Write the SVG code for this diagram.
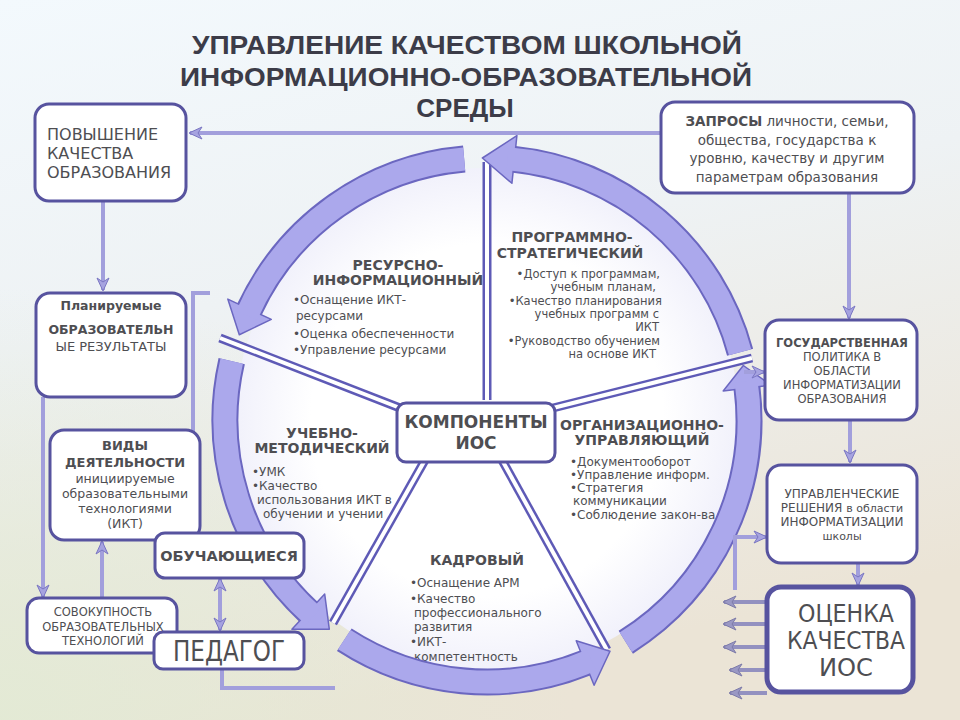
<svg xmlns="http://www.w3.org/2000/svg" width="960" height="720" viewBox="0 0 960 720">
<defs>
<linearGradient id="bg" x1="0" y1="0" x2="0.3" y2="1">
<stop offset="0" stop-color="#f3f9fd"/>
<stop offset="0.45" stop-color="#eef2f4"/>
<stop offset="1" stop-color="#ebe4d6"/>
</linearGradient>
<radialGradient id="bgl" cx="0" cy="1" r="0.6">
<stop offset="0" stop-color="#e2ead4" stop-opacity="0.9"/>
<stop offset="1" stop-color="#e2ead4" stop-opacity="0"/>
</radialGradient>
<radialGradient id="disc" cx="0.5" cy="0.5" r="0.5">
<stop offset="0.7" stop-color="#ffffff"/>
<stop offset="1" stop-color="#f1f1fb"/>
</radialGradient>
<marker id="ah" markerUnits="userSpaceOnUse" markerWidth="16" markerHeight="16" refX="13" refY="8" orient="auto">
<path d="M1,2 L14,8 L1,14 L5,8 z" fill="#a6a3e0" stroke="#7a76c2" stroke-width="1"/>
</marker>
<marker id="ahs" markerUnits="userSpaceOnUse" markerWidth="16" markerHeight="16" refX="3" refY="8" orient="auto">
<path d="M15,2 L2,8 L15,14 L11,8 z" fill="#a6a3e0" stroke="#7a76c2" stroke-width="1"/>
</marker>
<marker id="ag" markerUnits="userSpaceOnUse" markerWidth="16" markerHeight="16" refX="13" refY="8" orient="auto">
<path d="M1,2 L14,8 L1,14 L5,8 z" fill="#9a98c4" stroke="#7c7aa8" stroke-width="1"/>
</marker>
<style>
.bx{fill:#ffffff;stroke:#57539f;stroke-width:3}
.t{font-family:"DejaVu Sans","Noto Sans",sans-serif;fill:#4e4e52}
.b{font-weight:bold}
.c{text-anchor:middle}
.e{text-anchor:end}
.ttl{font-family:"Liberation Sans","DejaVu Sans",sans-serif;font-weight:bold;font-size:26px;fill:#3c3c48;text-anchor:middle}
.cn{fill:none;stroke:#a29fdc;stroke-width:4}
.cg{fill:none;stroke:#9391c0;stroke-width:4}
.ro{fill:none;stroke:#6b67c0;stroke-width:27}
.rf{fill:none;stroke:#aba8ec;stroke-width:23}
.rh{fill:#aba8ec;stroke:#6b67c0;stroke-width:1.5;stroke-linejoin:round}
.so{stroke:#5e5ab6;stroke-width:9;stroke-linecap:butt}
.si{stroke:#ffffff;stroke-width:4;stroke-linecap:butt}
</style>
</defs>

<rect width="960" height="720" fill="url(#bg)"/>
<rect width="960" height="720" fill="url(#bgl)"/>

<g id="title">
<text class="ttl" x="467" y="54" textLength="550" lengthAdjust="spacingAndGlyphs">УПРАВЛЕНИЕ КАЧЕСТВОМ ШКОЛЬНОЙ</text>
<text class="ttl" x="466" y="86" textLength="572" lengthAdjust="spacingAndGlyphs">ИНФОРМАЦИОННО-ОБРАЗОВАТЕЛЬНОЙ</text>
<text class="ttl" x="465" y="117">СРЕДЫ</text>
</g>

<g id="cycle">
<circle cx="487" cy="420" r="252" fill="url(#disc)"/>
</g>

<g id="sector-resource">
<text class="t b c" font-size="14" x="398" y="270">РЕСУРСНО-</text>
<text class="t b c" font-size="14" x="398" y="285">ИНФОРМАЦИОННЫЙ</text>
<text class="t" font-size="12" x="293" y="304">•Оснащение ИКТ-</text>
<text class="t" font-size="12" x="296" y="320">ресурсами</text>
<text class="t" font-size="12" x="293" y="338">•Оценка обеспеченности</text>
<text class="t" font-size="12" x="293" y="354">•Управление ресурсами</text>
</g>

<g id="sector-program">
<text class="t b c" font-size="14" x="572" y="242">ПРОГРАММНО-</text>
<text class="t b c" font-size="14" x="570" y="258">СТРАТЕГИЧЕСКИЙ</text>
<text class="t e" font-size="11.5" x="660" y="278">•Доступ к программам,</text>
<text class="t e" font-size="11.5" x="656" y="291">учебным планам,</text>
<text class="t e" font-size="11.5" x="662" y="305">•Качество планирования</text>
<text class="t e" font-size="11.5" x="659" y="318">учебных программ с</text>
<text class="t e" font-size="11.5" x="659" y="331">ИКТ</text>
<text class="t e" font-size="11.5" x="660" y="345">•Руководство обучением</text>
<text class="t e" font-size="11.5" x="656" y="358">на основе ИКТ</text>
</g>

<g id="sector-method">
<text class="t b c" font-size="14" x="322" y="438">УЧЕБНО-</text>
<text class="t b c" font-size="14" x="322" y="453">МЕТОДИЧЕСКИЙ</text>
<text class="t" font-size="12" x="252" y="476">•УМК</text>
<text class="t" font-size="12" x="252" y="490">•Качество</text>
<text class="t" font-size="12" x="257" y="504">использования ИКТ в</text>
<text class="t" font-size="12" x="263" y="518">обучении и учении</text>
</g>

<g id="sector-org">
<text class="t b c" font-size="14" x="642" y="430">ОРГАНИЗАЦИОННО-</text>
<text class="t b c" font-size="14" x="642" y="445">УПРАВЛЯЮЩИЙ</text>
<text class="t" font-size="12" x="570" y="466">•Документооборот</text>
<text class="t" font-size="12" x="570" y="479">•Управление информ.</text>
<text class="t" font-size="12" x="570" y="492">•Стратегия</text>
<text class="t" font-size="12" x="573" y="505">коммуникации</text>
<text class="t" font-size="12" x="570" y="519">•Соблюдение закон-ва</text>
</g>

<g id="sector-staff">
<text class="t b c" font-size="14" x="477" y="565">КАДРОВЫЙ</text>
<text class="t" font-size="12" x="410" y="587">•Оснащение АРМ</text>
<text class="t" font-size="12" x="410" y="603">•Качество</text>
<text class="t" font-size="12" x="414" y="617">профессионального</text>
<text class="t" font-size="12" x="414" y="631">развития</text>
<text class="t" font-size="12" x="410" y="646">•ИКТ-</text>
<text class="t" font-size="12" x="414" y="661">компетентность</text>
</g>

<g id="spokes">
<line class="so" x1="487" y1="400" x2="487" y2="162"/>
<line class="si" x1="487" y1="400" x2="487" y2="162"/>
<line class="so" x1="553" y1="408" x2="752" y2="358"/>
<line class="si" x1="553" y1="408" x2="752" y2="358"/>
<line class="so" x1="400" y1="408" x2="220" y2="338"/>
<line class="si" x1="400" y1="408" x2="220" y2="338"/>
<line class="so" x1="425" y1="460" x2="333" y2="623"/>
<line class="si" x1="425" y1="460" x2="333" y2="623"/>
<line class="so" x1="502" y1="460" x2="607" y2="650"/>
<line class="si" x1="502" y1="460" x2="607" y2="650"/>
</g>

<g id="ring">
<path class="ro" d="M740.1,352.2 A262,262 0 0 0 514.4,159.4"/>
<polygon class="rh" points="516.9,135.6 482.4,158.0 511.9,183.3"/>
<path class="rf" d="M740.1,352.2 A262,262 0 0 0 507.6,158.8"/>

<path class="ro" d="M464.2,159.0 A262,262 0 0 0 249.5,309.3"/>
<polygon class="rh" points="227.8,299.1 239.3,334.7 271.3,319.4"/>
<path class="rf" d="M464.2,159.0 A262,262 0 0 0 246.7,315.5"/>

<path class="ro" d="M231.7,361.1 A262,262 0 0 0 308.3,611.6"/>
<polygon class="rh" points="291.9,629.2 329.3,629.2 324.7,594.1"/>
<path class="rf" d="M231.7,361.1 A262,262 0 0 0 313.4,616.2"/>

<path class="ro" d="M344.3,639.7 A262,262 0 0 0 585.1,662.9"/>
<polygon class="rh" points="594.1,685.2 610.0,651.3 576.2,640.7"/>
<path class="rf" d="M344.3,639.7 A262,262 0 0 0 591.5,660.3"/>

<path class="ro" d="M625.8,642.2 A262,262 0 0 0 747.0,388.1"/>
<polygon class="rh" points="770.9,385.1 743.3,365.5 723.2,391.0"/>
<path class="rf" d="M625.8,642.2 A262,262 0 0 0 746.1,381.3"/>
</g>

<g id="connectors">
<path class="cn" d="M660,133 H190" marker-end="url(#ah)"/>
<path class="cn" d="M103,202 V290" marker-end="url(#ah)"/>
<path class="cn" d="M849,193 V318" marker-end="url(#ah)"/>
<path class="cn" d="M850,420 V462" marker-end="url(#ah)"/>
<path class="cn" d="M858,563 V585" marker-end="url(#ah)"/>
<path class="cn" d="M43,397 V597" marker-end="url(#ah)"/>
<path class="cn" d="M210,293 H193 V436"/>
<path class="cn" d="M102,598 V542" marker-end="url(#ah)"/>
<path class="cn" d="M220,579 V630" marker-start="url(#ahs)" marker-end="url(#ah)"/>
<path class="cn" d="M222,669 V688 H335"/>
<path class="cn" d="M744,372 H764" marker-end="url(#ah)"/>
<path class="cn" d="M735,590 V537 H766" marker-end="url(#ah)"/>
<path class="cg" d="M767,602 H724" marker-end="url(#ag)"/>
<path class="cg" d="M767,624 H724" marker-end="url(#ag)"/>
<path class="cg" d="M767,647 H724" marker-end="url(#ag)"/>
<path class="cg" d="M767,670 H730" marker-end="url(#ag)"/>
<path class="cg" d="M767,693 H730" marker-end="url(#ag)"/>
</g>

<g id="components">
<rect class="bx" x="397" y="403" width="158" height="59" rx="9"/>
<text class="t b c" font-size="17" x="476" y="428" fill="#555">КОМПОНЕНТЫ</text>
<text class="t b c" font-size="17" x="476" y="449" fill="#555">ИОС</text>
</g>

<g id="raise-quality">
<rect class="bx" x="35" y="104" width="151" height="97" rx="14"/>
<text class="t" font-size="16" x="47" y="140">ПОВЫШЕНИЕ</text>
<text class="t" font-size="16" x="47" y="159">КАЧЕСТВА</text>
<text class="t" font-size="16" x="47" y="178">ОБРАЗОВАНИЯ</text>
</g>

<g id="requests">
<rect class="bx" x="661" y="102" width="253" height="91" rx="14"/>
<text class="t c" font-size="13.5" x="787" y="126"><tspan class="b">ЗАПРОСЫ</tspan> личности, семьи,</text>
<text class="t c" font-size="13.5" x="787" y="145">общества, государства к</text>
<text class="t c" font-size="13.5" x="787" y="163">уровню, качеству и другим</text>
<text class="t c" font-size="13.5" x="787" y="182">параметрам образования</text>
</g>

<g id="planned-results">
<rect class="bx" x="36" y="293" width="150" height="104" rx="14"/>
<text class="t b c" font-size="12.5" x="111" y="310">Планируемые</text>
<text class="t b c" font-size="12.5" x="111" y="334">ОБРАЗОВАТЕЛЬН</text>
<text class="t c" font-size="13" x="111" y="351">ЫЕ РЕЗУЛЬТАТЫ</text>
</g>

<g id="activities">
<rect class="bx" x="50" y="430" width="150" height="110" rx="14"/>
<text class="t b c" font-size="13" x="125" y="450">ВИДЫ</text>
<text class="t b c" font-size="13" x="125" y="467">ДЕЯТЕЛЬНОСТИ</text>
<text class="t c" font-size="12.5" x="125" y="483">инициируемые</text>
<text class="t c" font-size="12.5" x="125" y="498">образовательными</text>
<text class="t c" font-size="12.5" x="125" y="513">технологиями</text>
<text class="t c" font-size="12.5" x="125" y="528">(ИКТ)</text>
</g>

<g id="technologies">
<rect class="bx" x="27" y="598" width="150" height="55" rx="12"/>
<text class="t c" font-size="11.5" x="103" y="616">СОВОКУПНОСТЬ</text>
<text class="t c" font-size="11.5" x="103" y="631">ОБРАЗОВАТЕЛЬНЫХ</text>
<text class="t c" font-size="11.5" x="103" y="645">ТЕХНОЛОГИЙ</text>
</g>

<g id="learners">
<rect class="bx" x="155" y="533" width="149" height="45" rx="10"/>
<text class="t b c" font-size="14.5" x="229" y="561">ОБУЧАЮЩИЕСЯ</text>
</g>

<g id="teacher">
<rect class="bx" x="154" y="632" width="150" height="37" rx="9"/>
<text class="t c" font-size="28" x="229" y="661" textLength="112" lengthAdjust="spacingAndGlyphs">ПЕДАГОГ</text>
</g>

<g id="state-policy">
<rect class="bx" x="765" y="320" width="152" height="100" rx="14"/>
<text class="t b c" font-size="11.5" x="842" y="347">ГОСУДАРСТВЕННАЯ</text>
<text class="t c" font-size="11.5" x="842" y="361">ПОЛИТИКА В</text>
<text class="t c" font-size="11.5" x="842" y="375">ОБЛАСТИ</text>
<text class="t c" font-size="11.5" x="842" y="389">ИНФОРМАТИЗАЦИИ</text>
<text class="t c" font-size="11.5" x="842" y="403">ОБРАЗОВАНИЯ</text>
</g>

<g id="management-decisions">
<rect class="bx" x="767" y="465" width="150" height="98" rx="14"/>
<text class="t c" font-size="12" x="842" y="498">УПРАВЛЕНЧЕСКИЕ</text>
<text class="t c" font-size="12" x="842" y="512">РЕШЕНИЯ  <tspan font-size="11">в области</tspan></text>
<text class="t c" font-size="12" x="842" y="526">ИНФОРМАТИЗАЦИИ</text>
<text class="t c" font-size="11" x="842" y="540">школы</text>
</g>

<g id="quality-assessment">
<rect class="bx" x="767" y="587" width="146" height="105" rx="14" style="stroke-width:5"/>
<text class="t c" font-size="25" x="846" y="622" textLength="96" lengthAdjust="spacingAndGlyphs">ОЦЕНКА</text>
<text class="t c" font-size="25" x="846" y="649" textLength="118" lengthAdjust="spacingAndGlyphs">КАЧЕСТВА</text>
<text class="t c" font-size="25" x="846" y="676" textLength="54" lengthAdjust="spacingAndGlyphs">ИОС</text>
</g>
</svg>
